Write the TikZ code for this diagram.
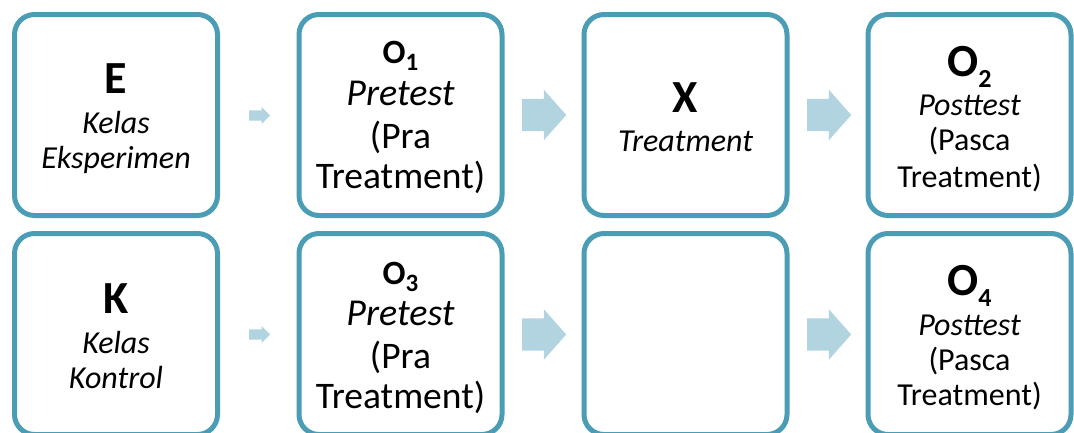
\documentclass[tikz,border=0pt]{standalone}
\usepackage{fontspec}
\setmainfont{Carlito}
\usetikzlibrary{shapes.arrows}
\definecolor{garis}{RGB}{74,157,181}
\definecolor{isi}{RGB}{177,212,224}
\newcommand{\indeks}[3]{\raisebox{-#1pt}{\fontsize{#2}{#2}\selectfont #3}}
\begin{document}
\begin{tikzpicture}[x=1pt,y=-1pt,
    kotak/.style={draw=garis,line width=5pt,rounded corners=20pt,minimum width=203pt,minimum height=201pt,inner sep=0pt},
    kecil/.style={single arrow,fill=isi,anchor=tail,inner xsep=0pt,inner ysep=5pt,minimum height=21pt,single arrow head extend=3.5pt},
    besar/.style={single arrow,fill=isi,anchor=tail,inner xsep=0pt,inner ysep=16pt,minimum height=44pt,single arrow head extend=9pt,single arrow tip angle=97},
    teks/.style={anchor=base,inner sep=0pt},
    judul/.style={teks,font=\fontsize{46}{46}\selectfont\bfseries},
    miring/.style={teks,font=\fontsize{32}{32}\selectfont\itshape},
    biasa/.style={teks,font=\fontsize{32}{32}\selectfont}]
    \useasboundingbox (0,0) rectangle (1074,432);
    \clip (0,0) rectangle (1074,432);
        \node[kotak] (E) at (116,115) {};
        \node[kotak] (O1) at (400.5,115) {};
        \node[kotak] (X) at (685.5,115) {};
        \node[kotak] (O2) at (969.5,115) {};
        \node[kotak] (K) at (116,334) {};
        \node[kotak] (O3) at (400.5,334) {};
        \node[kotak] (kosong) at (685.5,334) {};
        \node[kotak] (O4) at (969.5,334) {};
        \node[kecil] (a1) at (249,115.5) {};
        \node[besar] (a2) at (522,115) {};
        \node[besar] (a3) at (807,115) {};
        \node[kecil] (a4) at (249,334.5) {};
        \node[besar] (a5) at (522,334.5) {};
        \node[besar] (a6) at (807,334.5) {};
        \node[judul] (E-1) at (116,93) {E};
        \node[miring] (E-2) at (116,133) {Kelas};
        \node[miring] (E-3) at (116,168) {Eksperimen};
        \node[judul] (K-1) at (116,313) {K};
        \node[miring] (K-2) at (116,353) {Kelas};
        \node[miring] (K-3) at (116,388) {Kontrol};
        \node[teks,font=\fontsize{34}{34}\selectfont\bfseries] (O1-1) at (400.5,63) {O\indeks{7}{25}{1}};
        \node[teks,font=\fontsize{38}{38}\selectfont\itshape] (O1-2) at (400.5,105) {Pretest};
        \node[teks,font=\fontsize{37.5}{37.5}\selectfont] (O1-3) at (400.5,148) {(Pra};
        \node[teks,font=\fontsize{37.5}{37.5}\selectfont] (O1-4) at (400.5,188) {Treatment)};
        \node[teks,font=\fontsize{34}{34}\selectfont\bfseries] (O3-1) at (400.5,284) {O\indeks{7}{25}{3}};
        \node[teks,font=\fontsize{38}{38}\selectfont\itshape] (O3-2) at (400.5,325) {Pretest};
        \node[teks,font=\fontsize{37.5}{37.5}\selectfont] (O3-3) at (400.5,368) {(Pra};
        \node[teks,font=\fontsize{37.5}{37.5}\selectfont] (O3-4) at (400.5,408) {Treatment)};
        \node[judul] (X-1) at (685.5,112) {X};
        \node[miring] (X-2) at (685.5,151) {Treatment};
        \node[teks,font=\fontsize{46}{46}\selectfont\bfseries] (O2-1) at (969.5,76) {O\indeks{11}{26}{2}};
        \node[miring] (O2-2) at (969.5,115) {Posttest};
        \node[biasa] (O2-3) at (969.5,150) {(Pasca};
        \node[biasa] (O2-4) at (969.5,187) {Treatment)};
        \node[teks,font=\fontsize{46}{46}\selectfont\bfseries] (O4-1) at (969.5,295) {O\indeks{11}{26}{4}};
        \node[miring] (O4-2) at (969.5,335) {Posttest};
        \node[biasa] (O4-3) at (969.5,370) {(Pasca};
        \node[biasa] (O4-4) at (969.5,405) {Treatment)};
    \end{tikzpicture}
\end{document}
